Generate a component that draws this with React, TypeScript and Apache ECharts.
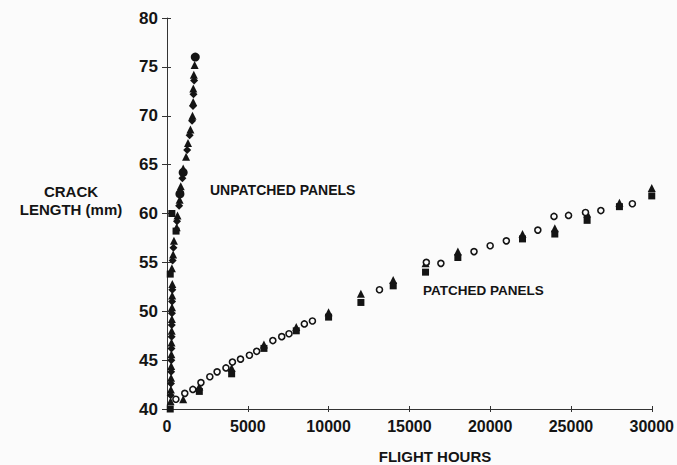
import React, { useEffect, useRef } from "react";
import * as echarts from "echarts";

// ---- data (flight hours, crack length mm) ----
const xTicks = [0, 5000, 10000, 15000, 20000, 25000, 30000];
const yTicks = [40, 45, 50, 55, 60, 65, 70, 75, 80];

// Unpatched panels
const unpatchedTriangles: number[][] = [
  [220, 40.8], [240, 42], [250, 43.2], [260, 44.4], [270, 45.6], [280, 46.8], [290, 48],
  [300, 49.2], [310, 50.4], [320, 51.6], [330, 52.8], [300, 54.4], [380, 55.8], [430, 57.2],
  [600, 58.6], [650, 59.8], [780, 61.4], [850, 62.8], [1000, 64.6], [1180, 65.8], [1300, 67.2],
  [1450, 68.6], [1580, 70], [1620, 71.4], [1630, 72.8], [1660, 74.2], [1710, 75.2],
];
const unpatchedDiamonds: number[][] = [
  [230, 41.4], [245, 42.6], [255, 43.8], [265, 45], [275, 46.2], [285, 47.4], [295, 48.6],
  [305, 49.8], [315, 51], [330, 52.2], [350, 55.2], [400, 56.5], [620, 59.2], [750, 60.8],
  [820, 62.2], [950, 63.6], [1250, 66.5], [1400, 68], [1550, 69.5], [1610, 71], [1640, 72.2],
  [1680, 73.6],
];
const unpatchedSquares: number[][] = [[200, 40], [200, 53.8], [300, 60], [560, 58.2]];
const unpatchedCircles: number[][] = [[1000, 64.2], [1750, 76], [800, 62]];

// Patched panels
const patchedTriangles: number[][] = [
  [1000, 41.0], [2000, 42.3], [4000, 44.2], [6000, 46.6], [8000, 48.4], [10000, 49.9],
  [12000, 51.8], [14000, 53.2], [16000, 54.9], [18000, 56.1], [22000, 57.9], [24000, 58.5],
  [26000, 60.0], [28000, 61.1], [30000, 62.6],
];
const patchedSquares: number[][] = [
  [2000, 41.8], [4000, 43.6], [6000, 46.2], [8000, 48.0], [10000, 49.4], [12000, 50.9],
  [14000, 52.6], [16000, 54.0], [18000, 55.5], [22000, 57.4], [24000, 57.9], [26000, 59.3],
  [28000, 60.7], [30000, 61.8],
];
const patchedCircles: number[][] = [
  [550, 41.0], [1100, 41.6], [1600, 42.0], [2100, 42.7], [2650, 43.3], [3100, 43.8],
  [3650, 44.2], [4050, 44.8], [4550, 45.1], [5100, 45.5], [5550, 45.9], [6550, 47.0],
  [7100, 47.4], [7550, 47.7], [8500, 48.7], [9000, 49.0], [13150, 52.2], [16050, 55.0],
  [16950, 54.9], [19000, 56.1], [20000, 56.7], [21000, 57.2], [22950, 58.3], [23950, 59.7],
  [24850, 59.8], [25900, 60.1], [26850, 60.3], [28800, 61.0],
];

const FONT = '"Liberation Sans", Arial, sans-serif';
const INK = "#141414";
const BG = "#fbfbfb";

export default function App() {
  const ref = useRef<HTMLDivElement>(null);
  useEffect(() => {
    document.body.style.margin = "0";
    if (!ref.current) return;
    const chart = echarts.init(ref.current, undefined, { renderer: "svg" });
    const dark = { color: INK, opacity: 1 };
    const sc = (data: number[][], symbol: string, size: number, itemStyle: any) => ({
      type: "scatter" as const,
      data,
      symbol,
      symbolSize: size,
      itemStyle,
      clip: false,
      xAxisIndex: 0,
      yAxisIndex: 0,
    });
    const plain = (v: number) => String(v);
    chart.setOption({
      animation: false,
      backgroundColor: BG,
      textStyle: { fontFamily: FONT },
      grid: { left: 167, right: 24, top: 18, bottom: 56, containLabel: false },
      xAxis: [
        {
          type: "value",
          min: xTicks[0],
          max: xTicks[xTicks.length - 1],
          interval: 5000,
          position: "bottom",
          axisLine: { show: true, lineStyle: { color: "#333", width: 1 } },
          axisTick: { show: true, inside: false, length: 3, lineStyle: { color: "#333" } },
          axisLabel: { show: true, color: INK, fontSize: 16, fontWeight: "bold", margin: 9, fontFamily: FONT, formatter: plain },
          splitLine: { show: false },
        },
        {
          type: "value",
          min: xTicks[0],
          max: xTicks[xTicks.length - 1],
          interval: 5000,
          position: "bottom",
          axisLine: { show: false },
          axisTick: { show: true, inside: true, length: 3, lineStyle: { color: "#333" } },
          axisLabel: { show: false },
          splitLine: { show: false },
        },
      ],
      yAxis: [
        {
          type: "value",
          min: yTicks[0],
          max: yTicks[yTicks.length - 1],
          interval: 5,
          position: "left",
          axisLine: { show: true, lineStyle: { color: "#333", width: 1 } },
          axisTick: { show: true, inside: false, length: 5, lineStyle: { color: "#333" } },
          axisLabel: { show: true, color: INK, fontSize: 17, fontWeight: "bold", margin: 9, fontFamily: FONT, formatter: plain },
          splitLine: { show: false },
        },
        {
          type: "value",
          min: yTicks[0],
          max: yTicks[yTicks.length - 1],
          interval: 5,
          position: "left",
          axisLine: { show: false },
          axisTick: { show: true, inside: true, length: 4, lineStyle: { color: "#333" } },
          axisLabel: { show: false },
          splitLine: { show: false },
        },
      ],
      series: [
        sc(unpatchedTriangles, "triangle", 8, dark),
        sc(unpatchedDiamonds, "diamond", 8, dark),
        sc(unpatchedSquares, "rect", 7, dark),
        sc(unpatchedCircles, "circle", 9, dark),
        sc(patchedSquares, "rect", 7, dark),
        sc(patchedTriangles, "triangle", 8, dark),
        sc(patchedCircles, "circle", 6, { color: BG, borderColor: INK, borderWidth: 1.6, opacity: 1 }),
      ],
      graphic: [
        {
          type: "text",
          x: 71,
          y: 200,
          style: {
            text: "CRACK\nLENGTH (mm)",
            fill: INK,
            font: `bold 15px ${FONT}`,
            align: "center",
            verticalAlign: "middle",
            lineHeight: 18,
          },
        },
        {
          type: "text",
          x: 210,
          y: 190,
          style: { text: "UNPATCHED PANELS", fill: INK, font: `bold 14px ${FONT}`, align: "left", verticalAlign: "middle" },
        },
        {
          type: "text",
          x: 423,
          y: 290,
          style: { text: "PATCHED PANELS", fill: INK, font: `bold 13.5px ${FONT}`, align: "left", verticalAlign: "middle" },
        },
        {
          type: "text",
          x: 435,
          y: 456,
          style: { text: "FLIGHT HOURS", fill: INK, font: `bold 15px ${FONT}`, align: "center", verticalAlign: "middle" },
        },
      ],
    });
    return () => chart.dispose();
  }, []);
  return <div ref={ref} style={{ position: "fixed", left: 0, top: 0, width: 677, height: 465 }} />;
}
